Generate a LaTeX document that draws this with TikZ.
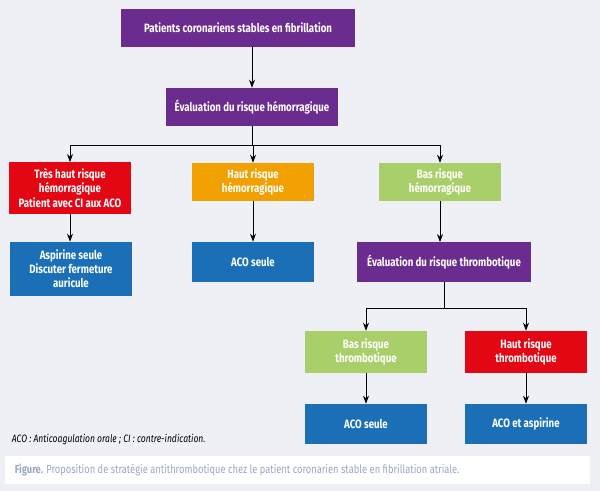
\documentclass[tikz,border=0pt]{standalone}
\usepackage{fontspec}
\setmainfont{Fira Sans}[FakeStretch=0.8]
\usetikzlibrary{arrows.meta}
\definecolor{bgc}{HTML}{EEF0F5}
\definecolor{violet}{HTML}{6A2C8E}
\definecolor{rouge}{HTML}{E30613}
\definecolor{orange}{HTML}{F0A000}
\definecolor{vert}{HTML}{A9CF6B}
\definecolor{bleu}{HTML}{1A6FB7}
\definecolor{capc}{HTML}{9AA6C4}
\tikzset{
  box/.style={fill=#1, text=white, align=center, inner sep=1pt,
    font=\fontsize{8.6}{10}\selectfont\bfseries, minimum width=3.05cm, minimum height=0.95cm},
  fleche/.style={-Stealth, semithick}
}
\begin{document}
\begin{tikzpicture}[x=0.025cm, y=-0.025cm]
			\fill[bgc] (0,0) rectangle (600,491);
			\useasboundingbox (0,0) rectangle (600,491);
			\node[box=violet, minimum width=5.83cm, minimum height=0.93cm] (p0) at (238,28)  {Patients coronariens stables en fibrillation};
			\node[box=violet, minimum width=4.3cm] (e1) at (252,107) {Évaluation du risque hémorragique};
			\node[box=rouge, minimum width=3.03cm, minimum height=1.28cm] (h1) at (70,188) {Très haut risque\\hémorragique\\Patient avec CI aux ACO};
			\node[box=orange] (h2) at (253,182) {Haut risque\\hémorragique};
			\node[box=vert] (h3) at (440,182) {Bas risque\\hémorragique};
			\node[box=bleu, minimum height=1.35cm] (t1) at (71,269) {Aspirine seule\\Discuter fermeture\\auricule};
			\node[box=bleu, minimum height=1cm] (t2) at (253,262) {ACO seule};
			\node[box=violet, minimum width=4.35cm, minimum height=0.98cm] (e2) at (444,262) {Évaluation du risque thrombotique};
			\node[box=vert, minimum height=1.05cm] (b1) at (366,352) {Bas risque\\thrombotique};
			\node[box=rouge, minimum height=1.05cm] (b2) at (526,352) {Haut risque\\thrombotique};
			\node[box=bleu, minimum height=1cm] (t3) at (366,424) {ACO seule};
			\node[box=bleu, minimum height=1cm] (t4) at (526,424) {ACO et aspirine};
			
			\draw[fleche] (p0) -- (e1 |- p0.south) -- (e1);
			\draw[semithick] (e1.south) -- ++(0,19) coordinate (c1);
			\foreach \v in {h1, h2, h3}
			{	\draw[fleche] (c1) -| (\v.north);
			}
			\draw[semithick] (e2.south) -- ++(0,27) coordinate (c2);
			\foreach \v in {b1, b2}
			{	\draw[fleche] (c2) -| (\v.north);
			}
			\def\down {h1/t1, h2/t2, h3/e2, b1/t3, b2/t4}
			\foreach \u/\v in \down
			{	\draw[fleche] (\u.south) -- (\u.south |- \v.north);
			}
			
			\node[anchor=west, font=\fontsize{7.6}{9}\selectfont\itshape] (note) at (7,439) {ACO : Anticoagulation orale ; CI : contre-indication.};
			\fill[white] (5,456) rectangle (590,484);
			\node[anchor=west, text=capc, font=\fontsize{8.3}{10}\selectfont] (cap) at (10,470) {\textbf{Figure.} Proposition de stratégie antithrombotique chez le patient coronarien stable en fibrillation atriale.};
\end{tikzpicture}
\end{document}
